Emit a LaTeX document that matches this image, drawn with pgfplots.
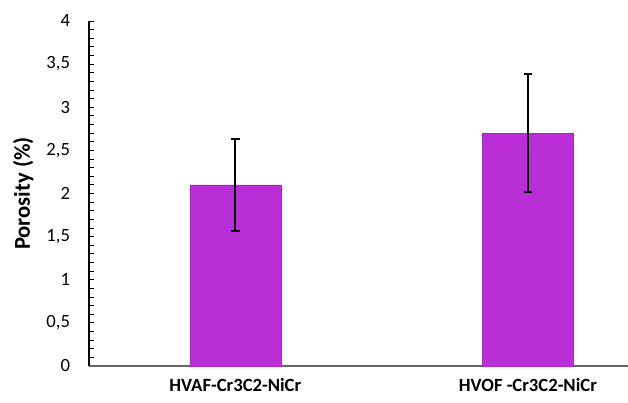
\documentclass[border=0pt]{standalone}
\usepackage{pgfplots}
\pgfplotsset{compat=1.18}
\usepackage{fontspec}
\setmainfont{Carlito}
\definecolor{barfill}{HTML}{B92ED6}
\definecolor{baredge}{HTML}{A526C4}
\begin{document}
\begin{tikzpicture}
\useasboundingbox (0,0) rectangle (471pt,302.25pt);
\begin{axis}[
  at={(66.75pt,27.75pt)}, anchor=south west,
  scale only axis, width=404.25pt, height=258.75pt,
  xmin=-0.5, xmax=1.342, ymin=0, ymax=4,
  axis x line*=bottom, axis y line*=left,
  x axis line style={draw=black!60, line width=0.9pt, -},
  y axis line style={draw=black, line width=0.8pt, -},
  ytick={0,0.5,...,4}, minor y tick num=4,
  tick align=inside,
  major tick length=4pt, minor tick length=3.75pt,
  every tick/.style={black, line width=0.7pt},
  xtick={0,1},
  xticklabels={HVAF-Cr3C2-NiCr, HVOF -Cr3C2-NiCr},
  major x tick style={draw=none},
  /pgf/number format/.cd, use comma, fixed, assume math mode=true,
  /pgfplots/.cd,
  yticklabel style={font=\fontsize{14}{16}\selectfont, anchor=east, inner sep=0pt, xshift=-14pt},
  xticklabel style={font=\fontsize{14}{16}\selectfont\bfseries, anchor=center, inner sep=0pt, yshift=-14.5pt},
  ylabel={Porosity (\%)},
  ylabel style={font=\fontsize{17}{20}\selectfont\bfseries, at={(axis description cs:-0.122,0.5)}, anchor=center},
  clip=false,
]
\addplot[ybar, bar width=68.25pt, fill=barfill, draw=baredge,
  error bars/.cd, y dir=both, y explicit,
  error bar style={black, line width=1.5pt},
  error mark options={rotate=90, black, line width=1.5pt, mark size=3.2pt}]
  coordinates {(0,2.10) +- (0,0.53) (1,2.70) +- (0,0.68)};
\end{axis}
\end{tikzpicture}
\end{document}
